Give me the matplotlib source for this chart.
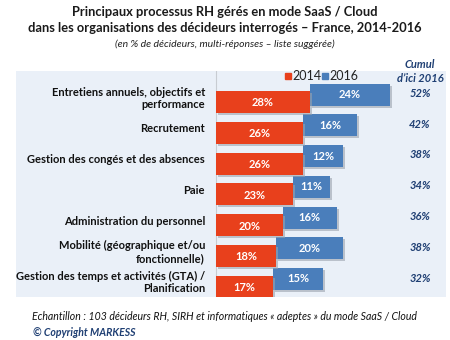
import matplotlib.pyplot as plt
import matplotlib.patheffects as pe
from matplotlib.patches import Rectangle

plt.rcParams['font.family'] = ['Lato', 'DejaVu Sans']

# Data
processes = [
    "Entretiens annuels, objectifs et\nperformance",
    "Recrutement",
    "Gestion des congés et des absences",
    "Paie",
    "Administration du personnel",
    "Mobilité (géographique et/ou\nfonctionnelle)",
    "Gestion des temps et activités (GTA) /\nPlanification",
]
pct_2014 = [28, 26, 26, 23, 20, 18, 17]
pct_2016 = [24, 16, 12, 11, 16, 20, 15]
cumul_2016 = [52, 42, 38, 34, 36, 38, 32]

red = '#E8401C'
blue = '#4A7EBB'
panel = '#EAF0F8'
dark_blue = '#1F3F73'

W, H = 450, 340
fig = plt.figure(figsize=(4.5, 3.4), dpi=100)


def fx(px):
    return px / W


def fy(py):
    return 1 - py / H


# panel axes, y in pixel units (top to bottom), x in percent
left_px, right_px, top_px, bot_px = 16, 446, 71, 297
zero_px, scale = 216, 3.35
ax = fig.add_axes([fx(left_px), fy(bot_px), fx(right_px - left_px), (bot_px - top_px) / H])
ax.set_facecolor(panel)
ax.set_xlim(-(zero_px - left_px) / scale, (right_px - zero_px) / scale)
ax.set_ylim(bot_px, top_px)
for s in ax.spines.values():
    s.set_visible(False)
ax.set_xticks([])
ax.set_yticks([])
ax.axvline(0, color='#C8CCD2', lw=0.8, zorder=1)

shadow = [pe.SimplePatchShadow(offset=(1.5, -1.5), shadow_rgbFace='#9AA3AE', alpha=0.6), pe.Normal()]

first_row, step, bar_h, shift = 102, 30.75, 22, 7.5
for i, name in enumerate(processes):
    yr = first_row + i * step
    yb = yr - shift
    b2 = ax.barh(yb, pct_2016[i], left=pct_2014[i], height=bar_h, color=blue, zorder=2)
    b1 = ax.barh(yr, pct_2014[i], height=bar_h, color=red, zorder=3)
    for b in list(b1) + list(b2):
        b.set_path_effects(shadow)
    ax.text(pct_2014[i] / 2, yr + 1, f"{pct_2014[i]}%", color='white', fontsize=8,
            fontweight='bold', ha='center', va='center', zorder=4)
    ax.text(pct_2014[i] + pct_2016[i] / 2, yb, f"{pct_2016[i]}%", color='white', fontsize=8,
            fontweight='bold', ha='center', va='center', zorder=4)
    ax.text(-3.3, (yr + yb) / 2, name, color='#111111', fontsize=8, fontweight='bold',
            ha='right', va='center', linespacing=1.15)
    ax.text((420 - zero_px) / scale, yb - 1, f"{cumul_2016[i]}%", color=dark_blue, fontsize=8,
            fontweight='bold', fontstyle='italic', ha='center', va='center')

# titles
fig.text(0.5, fy(12), "Principaux processus RH gérés en mode SaaS / Cloud",
         ha='center', va='center', fontsize=9.3, fontweight='bold', color='#1a1a1a')
fig.text(0.5, fy(28), "dans les organisations des décideurs interrogés – France, 2014-2016",
         ha='center', va='center', fontsize=9.3, fontweight='bold', color='#1a1a1a')
fig.text(0.5, fy(44), "(en % de décideurs, multi-réponses – liste suggérée)",
         ha='center', va='center', fontsize=7.5, fontstyle='italic', color='#222222')

# legend
for sx, col, lab in [(285, red, "2014"), (322, blue, "2016")]:
    fig.patches.append(Rectangle((fx(sx), fy(79)), fx(5.5), 5.5 / H, color=col,
                                 transform=fig.transFigure, figure=fig))
    fig.text(fx(sx + 7.5), fy(76), lab, color='#222222', fontsize=9, ha='left', va='center')

# cumul header
fig.text(fx(420), fy(64), "Cumul", color=dark_blue, fontsize=8, fontweight='bold',
         fontstyle='italic', ha='center', va='center')
fig.text(fx(420), fy(78), "d’ici 2016", color=dark_blue, fontsize=8, fontweight='bold',
         fontstyle='italic', ha='center', va='center')

# footer
fig.text(fx(32), fy(316), "Echantillon : 103 décideurs RH, SIRH et informatiques « adeptes » du mode SaaS / Cloud",
         ha='left', va='center', fontsize=7.6, fontstyle='italic', color='#111111')
fig.text(fx(33), fy(333), "© Copyright MARKESS", ha='left', va='center', fontsize=7.6,
         fontstyle='italic', fontweight='bold', color='#1F3F73')

fig.savefig('out.png', dpi=100)
